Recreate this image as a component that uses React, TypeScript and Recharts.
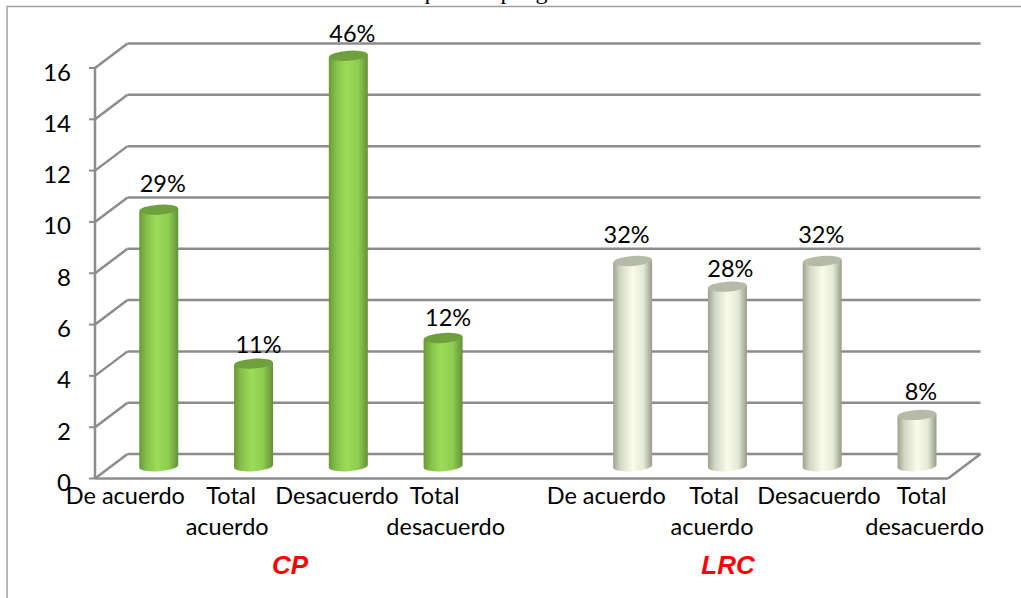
import { BarChart, Bar, XAxis, YAxis, CartesianGrid, LabelList } from 'recharts';

const categories = [
  'De acuerdo', 'Total acuerdo', 'Desacuerdo', 'Total desacuerdo', '',
  'De acuerdo', 'Total acuerdo', 'Desacuerdo', 'Total desacuerdo',
];
const groups = ['CP', 'CP', 'CP', 'CP', '', 'LRC', 'LRC', 'LRC', 'LRC'];
const values = [10, 4, 16, 5, null, 8, 7, 8, 2];
const percents = ['29%', '11%', '46%', '12%', '', '32%', '28%', '32%', '8%'];
const yTicks = [0, 2, 4, 6, 8, 10, 12, 14, 16];

const data = categories.map((name, i) => ({
  name,
  group: groups[i],
  value: values[i],
  percent: percents[i],
}));

// 3d look: offset of the back wall from the front plane
const DEPTH_X = 32.5;
const DEPTH_Y = 24.5;
const FLOOR_Y = 478.5;
const GRID = '#8c8c8c';
const FONT = 'Lato, sans-serif';

// hand placement, the source chart does not centre its labels
const tickNudge = [[-17], [-6, -10], [5], [8, 19], [0], [-10], [3, 1], [13], [21, 24]];
// one pair per drawn bar, the empty slot gets no label
const labelNudge = [
  [4, -26], [5, -19], [4, -22], [5, -20], [-6, -26], [3, -18], [-1, -26], [4, -23],
];

function GridLine(props: any) {
  const { x1, x2, y1, y2 } = props;
  return (
    <g key={props.key} stroke={GRID} strokeWidth={2.5} fill="none">
      <line x1={x1} y1={y1} x2={x1 + DEPTH_X} y2={y1 - DEPTH_Y} />
      <line x1={x1 + DEPTH_X} y1={y1 - DEPTH_Y} x2={x2 + DEPTH_X} y2={y2 - DEPTH_Y} />
      {Math.abs(y1 - FLOOR_Y) < 1 && (
        <line x1={x2} y1={y1} x2={x2 + DEPTH_X} y2={y2 - DEPTH_Y} />
      )}
    </g>
  );
}

function Cylinder(props: any) {
  const { x, y, width, height, payload } = props;
  if (!height) return null;
  const lrc = payload.group === 'LRC';
  const rx = width / 2;
  const ry = 5;
  const tilt = 1.5;
  const left = x + DEPTH_X / 2;
  const right = left + width;
  const top = y - DEPTH_Y / 2;
  const bottom = top + height;
  const body =
    `M${left} ${top + tilt} L${left} ${bottom + tilt} ` +
    `A${rx} ${ry} -4 0 0 ${right} ${bottom - tilt} L${right} ${top - tilt} Z`;
  return (
    <g>
      <path d={body} fill={lrc ? 'url(#lrcBody)' : 'url(#cpBody)'} />
      <ellipse
        cx={left + rx}
        cy={top}
        rx={rx}
        ry={ry}
        transform={`rotate(-4 ${left + rx} ${top})`}
        fill={lrc ? '#b5baa9' : '#70a03d'}
      />
    </g>
  );
}

function CategoryTick(props: any) {
  const { x, index, payload } = props;
  const lines = String(payload.value).split(' ');
  const rows = payload.value === 'De acuerdo' ? [payload.value] : lines;
  return (
    <g>
      {rows.map((row: string, i: number) => (
        <text
          key={i}
          x={x + (tickNudge[index][i] ?? 0)}
          y={504 + i * 31}
          textAnchor="middle"
          fontFamily={FONT}
          fontSize={23.5}
          fill="#000"
        >
          {row}
        </text>
      ))}
    </g>
  );
}

function PercentLabel(props: any) {
  const { x, y, width, value, index } = props;
  if (!value) return null;
  const [dx, dy] = labelNudge[index];
  return (
    <text
      x={x + width / 2 + DEPTH_X / 2 + dx}
      y={y - DEPTH_Y / 2 + dy + 8}
      textAnchor="middle"
      fontFamily={FONT}
      fontSize={23.5}
      fill="#000"
    >
      {value}
    </text>
  );
}

export default function App() {
  return (
    <div style={{ position: 'absolute', left: 0, top: 0, width: 1021, height: 598, background: '#fff' }}>
      <BarChart
        width={1021}
        height={598}
        data={data}
        barSize={39}
        margin={{ top: 68, left: 35, right: 73, bottom: 19.5 }}
      >
        <defs>
          <linearGradient id="cpBody" x1="0" y1="0" x2="1" y2="0">
            <stop offset="0%" stopColor="#6a993a" />
            <stop offset="18%" stopColor="#85bf49" />
            <stop offset="45%" stopColor="#9bdc57" />
            <stop offset="75%" stopColor="#8fcc50" />
            <stop offset="100%" stopColor="#64913a" />
          </linearGradient>
          <linearGradient id="lrcBody" x1="0" y1="0" x2="1" y2="0">
            <stop offset="0%" stopColor="#9ea391" />
            <stop offset="18%" stopColor="#d3d8c4" />
            <stop offset="50%" stopColor="#f8fcea" />
            <stop offset="78%" stopColor="#e4e9d5" />
            <stop offset="100%" stopColor="#969b8a" />
          </linearGradient>
        </defs>
        <path d="M7 598 V6.5 H1021" fill="none" stroke="#a0a0a0" strokeWidth={1.5} />
        <text x={120} y={-1} fontFamily="Liberation Serif" fontSize={24} textLength={290} fill="#000">
          Gráfica: Nivel de acuerdo en
        </text>
        <text x={418} y={-1} fontFamily="Liberation Serif" fontSize={24} textLength={557} fill="#000">
          que los programas están en sintonía con los docentes
        </text>
        <CartesianGrid horizontal={GridLine} vertical={false} syncWithTicks />
        <XAxis
          dataKey="name"
          interval={0}
          height={100}
          tick={CategoryTick}
          tickLine={false}
          axisLine={{ stroke: GRID, strokeWidth: 2.5 }}
        />
        <YAxis
          domain={[0, 16]}
          ticks={yTicks}
          width={60}
          tickSize={6}
          tickMargin={18}
          tick={{ fontFamily: FONT, fontSize: 24, fill: '#000', dy: 4 }}
          tickLine={{ stroke: GRID, strokeWidth: 2 }}
          axisLine={{ stroke: GRID, strokeWidth: 2.5 }}
        />
        <Bar dataKey="value" shape={Cylinder} isAnimationActive={false}>
          <LabelList dataKey="percent" content={PercentLabel} />
        </Bar>
        <text x={290} y={574} textAnchor="middle" fontFamily="Liberation Sans" fontWeight="bold" fontStyle="italic" fontSize={26} fill="#ff0000">
          {groups[0]}
        </text>
        <text x={728} y={574} textAnchor="middle" fontFamily="Liberation Sans" fontWeight="bold" fontStyle="italic" fontSize={26} fill="#ff0000">
          {groups[5]}
        </text>
      </BarChart>
    </div>
  );
}
